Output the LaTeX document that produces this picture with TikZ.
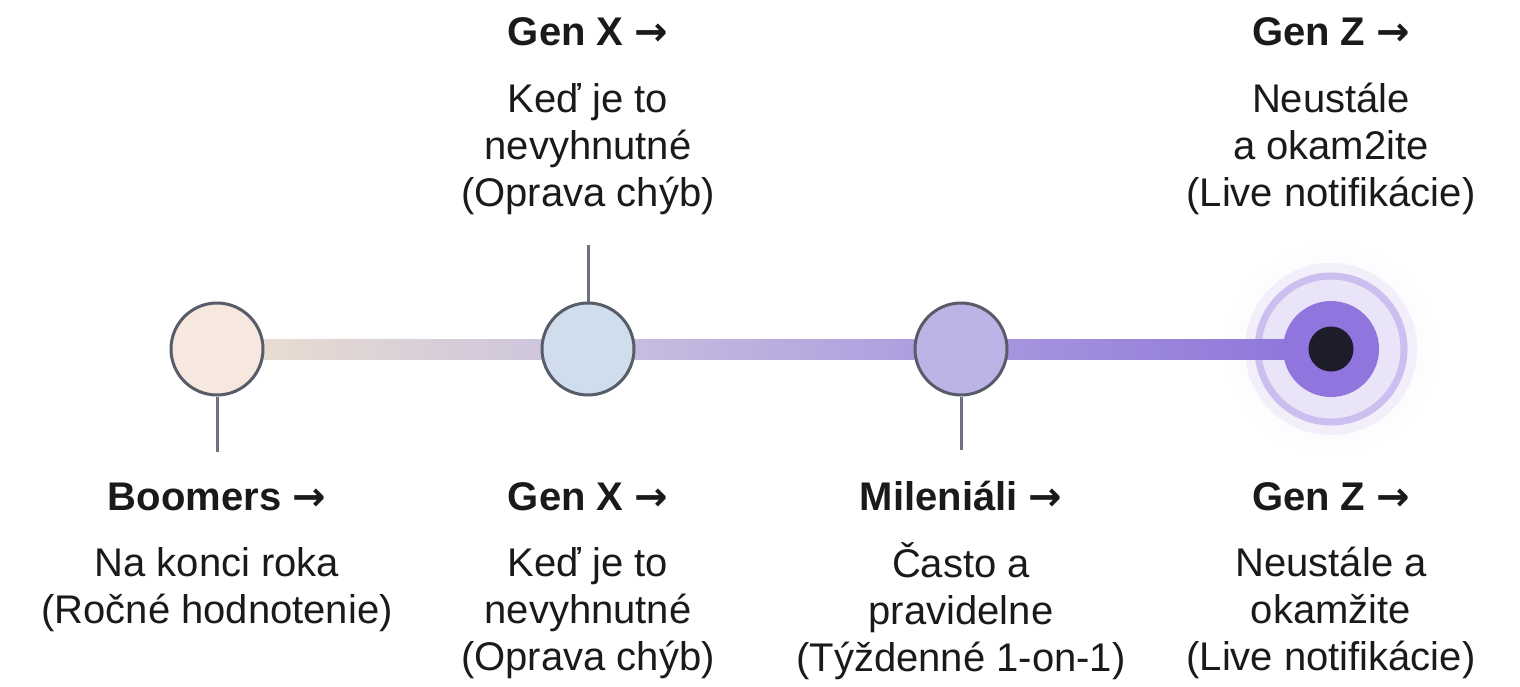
\documentclass[tikz,border=0pt]{standalone}
\usepackage{fontspec}
\setmainfont{Liberation Sans}
\newfontfamily\arrowfont{DejaVu Sans}
\usetikzlibrary{calc}
\definecolor{cBoom}{HTML}{F6E7DF}
\definecolor{cGenX}{HTML}{CFDDEC}
\definecolor{cMil}{HTML}{BCB4E7}
\definecolor{cBorder}{HTML}{575C68}
\definecolor{cTick}{HTML}{6E7280}
\definecolor{cL1}{HTML}{ECDFCE}
\definecolor{cL2}{HTML}{CAC2DF}
\definecolor{cL3}{HTML}{A999DF}
\definecolor{cL4}{HTML}{8C73D9}
\definecolor{cGlow}{HTML}{F2EEFA}
\definecolor{cRingFill}{HTML}{EAE4F8}
\definecolor{cRing}{HTML}{CABFEE}
\definecolor{cPurple}{HTML}{8F75DD}
\definecolor{cDark}{HTML}{1D1C2B}
\definecolor{cText}{HTML}{1A1A1A}
\newcommand{\arr}{{\arrowfont\bfseries →}}
\begin{document}
\begin{tikzpicture}[x=1pt,y=-1pt,
  gen/.style={circle,draw=cBorder,line width=3pt,minimum size=92pt,inner sep=0pt},
  tick/.style={draw=cTick,line width=3pt},
  head/.style={font=\fontsize{40}{47}\selectfont\bfseries,text=cText,inner sep=0pt,anchor=center},
  body/.style={font=\fontsize{40}{47}\selectfont,text=cText,align=center,inner sep=0pt,anchor=center}]
\useasboundingbox (0,0) rectangle (1520,686);
\fill[white] (0,0) rectangle (1520,686);
% positions
\coordinate (pB) at (217,349);
\coordinate (pX) at (588,349);
\coordinate (pM) at (961,349);
\coordinate (pZ) at (1331,349);
% Gen Z glow
\shade[inner color=cGlow,outer color=white] (pZ) circle (108);
\fill[cGlow] (pZ) circle (86);
\fill[cRingFill,draw=cRing,line width=7pt] (pZ) circle (73);
% timeline segments
\shade[left color=cL1,right color=cL2] ($(pB)+(0,-10)$) rectangle ($(pX)+(0,10)$);
\shade[left color=cL2,right color=cL3] ($(pX)+(0,-10)$) rectangle ($(pM)+(0,10)$);
\shade[left color=cL3,right color=cL4] ($(pM)+(0,-10)$) rectangle ($(pZ)+(0,10)$);
% nodes
\node[gen,fill=cBoom] (b) at (pB) {};
\node[gen,fill=cGenX] (x) at (pX) {};
\node[gen,fill=cMil] (m) at (pM) {};
\node[circle,fill=cPurple,minimum size=96pt,inner sep=0pt] (z) at (pZ) {};
\node[circle,fill=cDark,minimum size=45pt,inner sep=0pt] (zc) at (pZ) {};
% ticks
\coordinate (tB) at (217,452);
\coordinate (tX) at (588,245);
\coordinate (tM) at (961,450);
\draw[tick] (b.south) -- (tB);
\draw[tick] (x.north) -- (tX);
\draw[tick] (m.south) -- (tM);
% top labels
\node[head] (hX1) at (588,36) {\strut Gen X \arr};
\node[body] (tX1) at (588,150) {\strut Keď je to\\nevyhnutné\\(Oprava chýb)\strut};
\node[head] (hZ1) at (1331,36) {\strut Gen Z \arr};
\node[body] (tZ1) at (1331,150) {\strut Neustále\\a okam2ite\\(Live notifikácie)\strut};
% bottom labels
\node[head] (hB) at (217,501) {\strut Boomers \arr};
\node[body] (tB2) at (217,591) {\strut Na konci roka\\(Ročné hodnotenie)\strut};
\node[head] (hX2) at (588,501) {\strut Gen X \arr};
\node[body] (tX2) at (588,614) {\strut Keď je to\\nevyhnutné\\(Oprava chýb)\strut};
\node[head] (hM) at (961,501) {\strut Mileniáli \arr};
\node[body] (tM2) at (961,614) {\strut Často a\\pravidelne\\(Týždenné 1-on-1)\strut};
\node[head] (hZ2) at (1331,501) {\strut Gen Z \arr};
\node[body] (tZ2) at (1331,614) {\strut Neustále a\\okamžite\\(Live notifikácie)\strut};
\end{tikzpicture}
\end{document}
